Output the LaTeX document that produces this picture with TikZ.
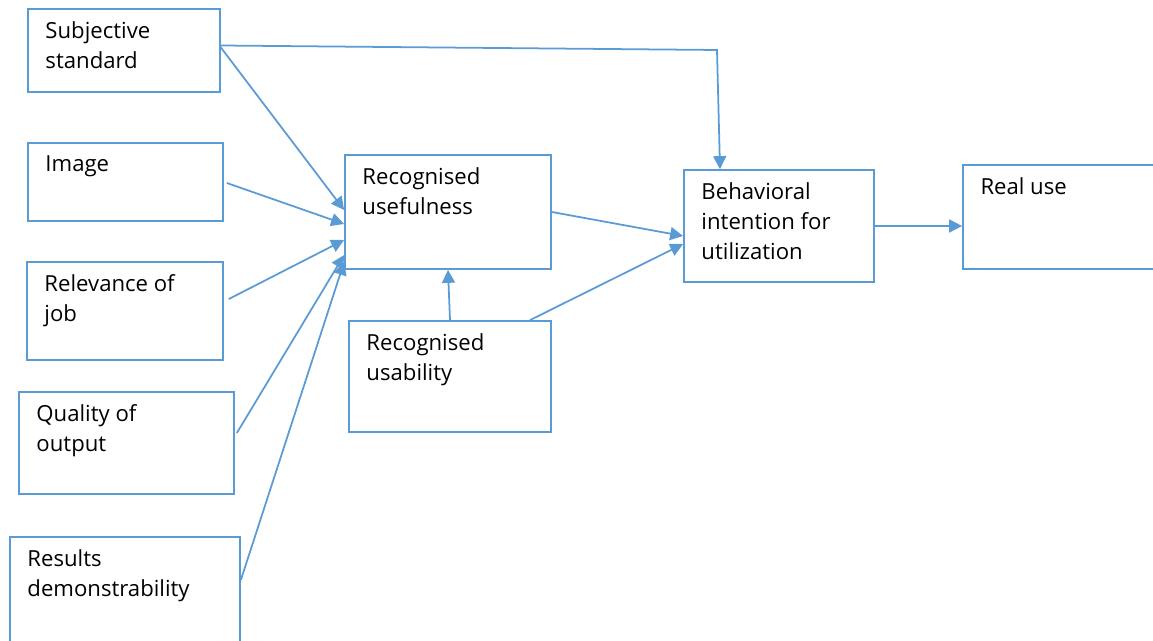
\documentclass[tikz,border=0pt]{standalone}
\usepackage{fontspec}
\setmainfont{Open Sans}
\usetikzlibrary{positioning}
\usetikzlibrary{arrows.meta}

\definecolor{officeblue}{HTML}{5B9BD5}

\tikzset{
  box/.style={draw=officeblue,line width=1pt,rectangle,inner sep=0pt},
  lbl/.style={anchor=north west,align=left,inner sep=0pt,font=\fontsize{12.6}{17.2}\selectfont},
  arr/.style={draw=officeblue,line width=1pt,-{Triangle[length=0.26cm,width=0.26cm]}}
}

\begin{document}
\begin{tikzpicture}[x=0.02cm,y=-0.02cm]
\clip (0,0) rectangle (1153,641);

% left column
\node[box,minimum width=3.84cm,minimum height=1.66cm] (subj) at (124,50.5) {};
\node[box,minimum width=3.90cm,minimum height=1.56cm] (image) at (125.5,182) {};
\node[box,minimum width=3.92cm,minimum height=1.96cm] (relev) at (125,311) {};
\node[box,minimum width=4.30cm,minimum height=2.04cm] (qual) at (126.5,443) {};
\node[box,minimum width=4.60cm,minimum height=2.46cm] (res) at (125,598.5) {};

% middle and right
\node[box,minimum width=4.12cm,minimum height=2.28cm] (useful) at (448,212) {};
\node[box,minimum width=4.04cm,minimum height=2.22cm] (usab) at (450,376.5) {};
\node[box,minimum width=3.80cm,minimum height=2.24cm] (behav) at (779,226) {};
\node[box,minimum width=4.04cm,minimum height=2.08cm] (real) at (1064,217) {};

% texts
\node[lbl,below right=0.26cm and 0.36cm of subj.north west] (subjtxt) {Subjective\\standard};
\node[lbl,below right=0.26cm and 0.36cm of image.north west] (imagetxt) {Image};
\node[lbl,below right=0.26cm and 0.36cm of relev.north west] (relevtxt) {Relevance of\\job};
\node[lbl,below right=0.26cm and 0.36cm of qual.north west] (qualtxt) {Quality of\\output};
\node[lbl,below right=0.26cm and 0.36cm of res.north west] (restxt) {Results\\demonstrability};
\node[lbl,below right=0.26cm and 0.36cm of useful.north west] (usefultxt) {Recognised\\usefulness};
\node[lbl,below right=0.26cm and 0.36cm of usab.north west] (usabtxt) {Recognised\\usability};
\node[lbl,below right=0.26cm and 0.36cm of behav.north west] (behavtxt) {Behavioral\\intention for\\utilization};
\node[lbl,below right=0.26cm and 0.36cm of real.north west] (realtxt) {Real use};

\coordinate (bend) at (717,50);

% connectors
\draw[arr] ([yshift=0.1cm]subj.east) -- (bend) -- ([xshift=-1.18cm]behav.north);
\draw[arr] ([yshift=0.06cm]subj.east) -- ([yshift=0.04cm]useful.west);
\draw[arr] ([shift={(3,1)}]image.east) -- ([yshift=-0.24cm]useful.west);
\draw[arr] ([shift={(5,-12)}]relev.east) -- ([yshift=-0.56cm]useful.west);
\draw[arr] ([shift={(2,-10)}]qual.east) -- ([yshift=-0.86cm]useful.west);
\draw[arr] (res.east |- 0,580) -- ([yshift=-1.0cm]useful.west);
\draw[arr] (usab.north) -- (useful.south);
\draw[arr] (useful.east) -- ([yshift=-0.2cm]behav.west);
\draw[arr] ([xshift=1.6cm]usab.north) -- ([yshift=-0.36cm]behav.west);
\draw[arr] (behav.east) -- (behav.east -| real.west);

\end{tikzpicture}
\end{document}
